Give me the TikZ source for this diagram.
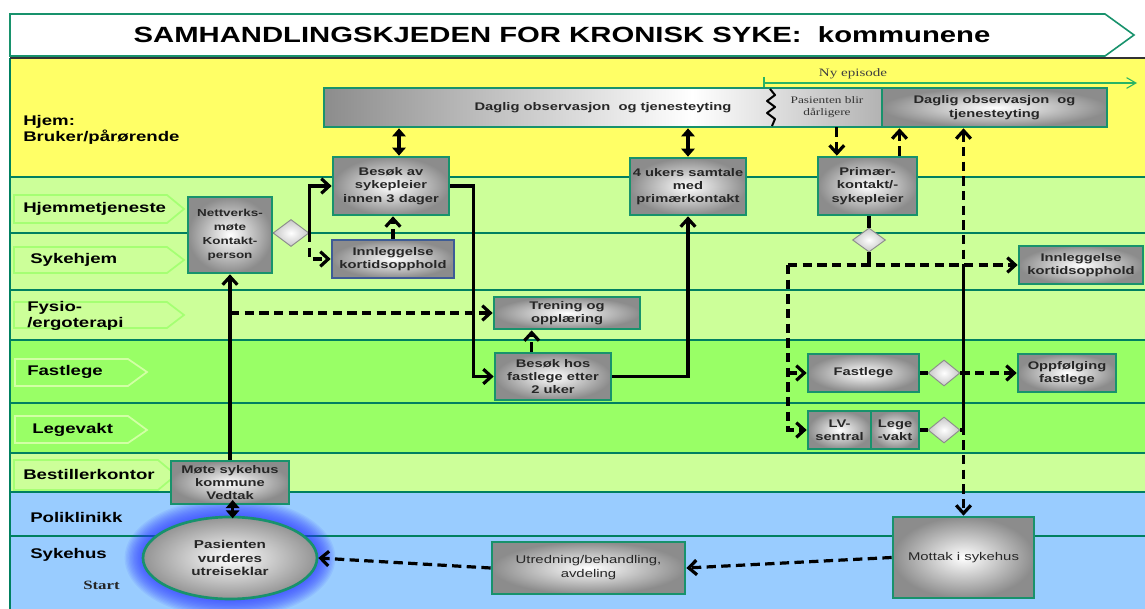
\documentclass[tikz,border=0pt]{standalone}
\usepackage{fontspec}
\setmainfont{Liberation Sans}[FakeStretch=1.33]
\newfontfamily\notefont{Liberation Serif}[FakeStretch=1.33]
\usetikzlibrary{arrows.meta,shapes.geometric}

\definecolor{laneline}{RGB}{0,128,96}
\definecolor{boxline}{RGB}{24,146,108}
\definecolor{bluebox}{RGB}{62,92,150}
\definecolor{hjemfill}{RGB}{255,255,102}
\definecolor{lightlane}{RGB}{204,255,153}
\definecolor{midlane}{RGB}{153,255,102}
\definecolor{bluelane}{RGB}{153,204,255}
\definecolor{taglight}{RGB}{165,255,115}
\definecolor{tagmid}{RGB}{210,255,165}
\definecolor{episode}{RGB}{40,180,100}
\definecolor{glow}{RGB}{40,50,255}

\pgfdeclarehorizontalshading{barshade}{100bp}{color(0bp)=(black!45); color(25bp)=(black!45); color(58bp)=(white); color(75bp)=(black!30); color(100bp)=(black!30)}

\tikzset{
  box/.style={draw=boxline, line width=2pt, inner color=white, outer color=black!45,
    align=center, inner sep=1pt, text=black!85, font=\fontsize{8.3}{10}\selectfont\bfseries},
  decide/.style={diamond, draw=black!45, line width=0.7pt, inner color=white, outer color=black!22,
    inner sep=0pt},
  vurder/.style={ellipse, draw=boxline, line width=2pt, inner color=white, outer color=black!42,
    align=center, inner sep=0pt, text=black!85, font=\fontsize{8.6}{10}\selectfont\bfseries},
  lanetag/.style={draw=#1, line width=1.3pt},
  lanelabel/.style={anchor=west, inner sep=0pt, align=left, font=\fontsize{10.5}{11.5}\selectfont\bfseries},
  conn/.style={line width=2.4pt},
  flow/.style={conn, -{Straight Barb[length=6pt,width=11pt]}},
  dflow/.style={flow, dash pattern=on 7pt off 4pt},
  dboth/.style={dflow, {Straight Barb[length=6pt,width=11pt]}-{Straight Barb[length=6pt,width=11pt]}},
  both/.style={conn, {Triangle[length=6pt,width=10pt]}-{Triangle[length=6pt,width=10pt]}}
}

\begin{document}
\begin{tikzpicture}[x=0.75pt,y=-0.75pt]
\useasboundingbox (0,0) rectangle (1145,609);

% baner
\fill[hjemfill] (10,58) rectangle (1145,177);
\fill[lightlane] (10,177) rectangle (1145,340);
\fill[midlane] (10,340) rectangle (1145,453);
\fill[lightlane] (10,453) rectangle (1145,492);
\fill[bluelane] (10,492) rectangle (1145,609);
\foreach \y in {177,233,290,340,403,453,492,536}
  \draw[laneline, line width=1.5pt] (10,\y) -- (1145,\y);
\draw[laneline, line width=1.5pt] (10,58) -- (10,609);
\draw[black!80, line width=1pt] (10,58) -- (1145,58);

% tittel
\draw[boxline, fill=white, line width=1.2pt] (10,14) -- (1105,14) -- (1134,35) -- (1105,56) -- (10,56) -- cycle;
\node[font=\fontsize{16.5}{18}\selectfont\bfseries] (title) at (562,35) {SAMHANDLINGSKJEDEN FOR KRONISK SYKE:\ \ kommunene};

% banetekster
\draw[lanetag=taglight] (14,195) -- (167,195) -- (184,209) -- (167,223) -- (14,223) -- cycle;
\draw[lanetag=taglight] (14,247) -- (167,247) -- (184,260) -- (167,273) -- (14,273) -- cycle;
\draw[lanetag=taglight] (14,302) -- (167,302) -- (184,315) -- (167,328) -- (14,328) -- cycle;
\draw[lanetag=tagmid] (15,359) -- (128,359) -- (147,372) -- (128,386) -- (15,386) -- cycle;
\draw[lanetag=tagmid] (15,416) -- (128,416) -- (147,430) -- (128,443) -- (15,443) -- cycle;
\draw[lanetag=taglight] (14,460) -- (158,460) -- (176,475) -- (158,490) -- (14,490) -- cycle;
\node[lanelabel] (lhjem) at (23,130) {Hjem:\\Bruker/pårørende};
\node[lanelabel] (lhjemtj) at (23,209) {Hjemmetjeneste};
\node[lanelabel] (lsykehjem) at (30,260) {Sykehjem};
\node[lanelabel] (lfysio) at (27,316) {Fysio-\\/ergoterapi};
\node[lanelabel] (lfastlege) at (27,372) {Fastlege};
\node[lanelabel] (llegevakt) at (32,430) {Legevakt};
\node[lanelabel] (lbestiller) at (23,474) {Bestillerkontor};
\node[lanelabel] (lpoli) at (30,517) {Poliklinikk};
\node[lanelabel] (lsykehus) at (30,555) {Sykehus};
\node[anchor=west, inner sep=0pt, font=\notefont\bfseries\fontsize{9.5}{11}\selectfont, text=black!85] (lstart) at (83,585) {Start};

% ny episode
\coordinate (epstart) at (764,83);
\coordinate (epend) at (1137,83);
\draw[episode, line width=0.8pt, -{Straight Barb[length=7pt,width=8pt]}] (epstart) -- (epend);
\draw[episode, line width=0.8pt] ([yshift=4.5pt]epstart) -- ([yshift=-3pt]epstart);
\node[font=\notefont\fontsize{8.5}{10}\selectfont, text=black!75] (nyep) at (853,74) {Ny episode};

% glod rundt start
\coordinate (pc) at (230,558);
\foreach \g in {0,...,14}
  \fill[glow, opacity=0.075] (pc) ellipse [x radius={79pt-1pt*\g}, y radius={45pt-1pt*\g}];

% noder
\node[box, shading=barshade, minimum width=418.5pt, minimum height=29.25pt] (daglig) at (603,107.5) {Daglig observasjon\ \ og tjenesteyting};
\node[font=\notefont\fontsize{7.5}{9}\selectfont, text=black!80, align=center, inner sep=0pt, minimum width=80pt, minimum height=29.25pt] (darl) at (827,107.5) {Pasienten blir\\dårligere};
\draw[line width=1.5pt, line join=round] (770,89) -- (775,95) -- (767,101) -- (775,107) -- (767,113) -- (775,119) -- (772,126);
\node[box, minimum width=168.75pt, minimum height=29.25pt] (daglig2) at (994.5,107.5) {Daglig observasjon\ \ og\\tjenesteyting};

\node[box, minimum width=87pt, minimum height=43.5pt] (besok) at (391,186) {Besøk av\\sykepleier\\innen 3 dager};
\node[box, minimum width=87pt, minimum height=42.75pt] (samtale) at (688,186.5) {4 ukers samtale\\med\\primærkontakt};
\node[box, minimum width=63pt, minimum height=57pt, font=\fontsize{7.6}{10.5}\selectfont\bfseries] (nettverk) at (230,235) {Nettverks-\\møte\\Kontakt-\\person};
\node[decide, minimum width=27pt, minimum height=20.25pt] (dia1) at (291,233) {};
\node[box, draw=bluebox, minimum width=91.5pt, minimum height=28.5pt] (innlegg1) at (393,259) {Innleggelse\\kortidsopphold};
\node[box, minimum width=109.5pt, minimum height=24pt] (trening) at (567,313) {Trening og\\opplæring};
\node[box, minimum width=87pt, minimum height=35.25pt] (fastbes) at (553,376.5) {Besøk hos\\fastlege etter\\2 uker};

\node[box, minimum width=74.25pt, minimum height=43.5pt] (primaer) at (867.5,186) {Primær-\\kontakt/-\\sykepleier};
\node[decide, minimum width=24.75pt, minimum height=18pt] (dia2) at (869,240) {};
\node[box, minimum width=93pt, minimum height=28.5pt] (innlegg2) at (1081,265) {Innleggelse\\kortidsopphold};
\node[box, minimum width=83.25pt, minimum height=28.5pt] (fastlege) at (863.5,373) {Fastlege};
\node[decide, minimum width=24pt, minimum height=19.5pt] (dia3) at (944,373) {};
\node[box, minimum width=73.5pt, minimum height=28.5pt] (oppfolg) at (1067,373) {Oppfølging\\fastlege};
\node[box, minimum width=47.25pt, minimum height=28.5pt] (lvsentral) at (839.5,430) {LV-\\sentral};
\node[box, minimum width=36pt, minimum height=28.5pt] (legevakt) at (895,430) {Lege\\-vakt};
\node[decide, minimum width=24pt, minimum height=19.5pt] (dia4) at (944,430) {};

\node[box, minimum width=88.5pt, minimum height=32.25pt] (mote) at (230,482.5) {Møte sykehus\\kommune\\Vedtak};
\node[vurder, minimum width=130.5pt, minimum height=61.5pt] (pasient) at (pc) {Pasienten\\vurderes\\utreiseklar};
\node[box, font=\fontsize{8.4}{10.5}\selectfont, minimum width=144.75pt, minimum height=39pt] (utred) at (588.5,568) {Utredning/behandling,\\avdeling};
\node[box, font=\fontsize{8.4}{10.5}\selectfont, minimum width=105.75pt, minimum height=60.75pt] (mottak) at (963.5,557.5) {Mottak\ i sykehus};

% forbindelser
\draw[flow] (mote.north) -- (nettverk.south);
\draw[both, shorten <=-4pt, shorten >=-2pt] ([xshift=2pt]mote.south) -- ([xshift=2pt]pasient.north);
\draw[flow] (dia1.east) |- (besok.west);
\draw[dflow] (dia1.east) |- (innlegg1.west);
\draw[dflow] (innlegg1.north) -- (innlegg1.north |- besok.south);
\draw[both] ([xshift=6pt]besok.north) -- ([xshift=6pt]besok.north |- daglig.south);
\draw[flow] (besok.east) -- ++(23,0) |- (fastbes.west);
\draw[dflow] ([xshift=-16pt]fastbes.north) -- ([xshift=-16pt]fastbes.north |- trening.south);
\draw[flow] (fastbes.east) -| (samtale.south);
\draw[both] (samtale.north) -- (samtale.north |- daglig.south);
\draw[dflow] (nettverk.south |- trening.west) -- (trening.west);

\draw[dflow] ([xshift=-23pt]primaer.north |- darl.south) -- ([xshift=-23pt]primaer.north);
\draw[dflow] ([xshift=24pt]primaer.north) -- ([xshift=24pt]primaer.north |- daglig2.south);
\draw[dboth] (mottak.north |- daglig2.south) -- (mottak.north);
\draw[conn] (dia2.north |- primaer.south) -- (dia2.north);
\coordinate (split) at (788,265);
\draw[conn] (dia2.south) -- (dia2.south |- split);
\draw[dflow] (split) -- (innlegg2.west);
\draw[dflow] (split) |- (lvsentral.west);
\draw[dflow] (split |- fastlege.west) -- (fastlege.west);
\draw[conn] (fastlege.east) -- (dia3.west);
\draw[dflow] (dia3.east) -- (oppfolg.west);
\draw[conn] (legevakt.east) -- (dia4.west);
\draw[conn] (dia4.east) -| (mottak.north |- split);
\draw[dflow] (mottak.west) -- (utred.east);
\draw[dflow] (utred.west) -- (pasient.east);
\end{tikzpicture}
\end{document}
